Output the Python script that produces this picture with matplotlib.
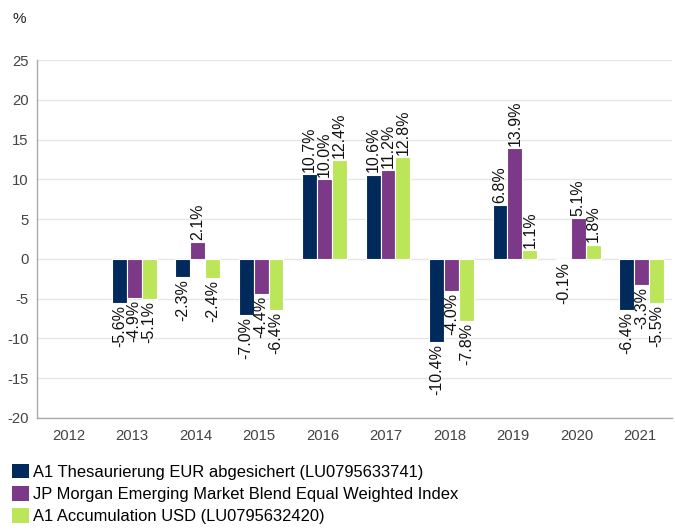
import numpy as np
import matplotlib
matplotlib.use("Agg")
import matplotlib.pyplot as plt
from matplotlib.patches import Patch

plt.rcParams['font.family'] = ['Liberation Sans', 'DejaVu Sans']
plt.rcParams['axes.unicode_minus'] = False

# data
years = ['2012', '2013', '2014', '2015', '2016', '2017', '2018', '2019', '2020', '2021']
a1_eur = [np.nan, -5.6, -2.3, -7.0, 10.7, 10.6, -10.4, 6.8, -0.1, -6.4]
jpm_index = [np.nan, -4.9, 2.1, -4.4, 10.0, 11.2, -4.0, 13.9, 5.1, -3.3]
a1_usd = [np.nan, -5.1, -2.4, -6.4, 12.4, 12.8, -7.8, 1.1, 1.8, -5.5]
series_names = ['A1 Thesaurierung EUR abgesichert (LU0795633741)',
                'JP Morgan Emerging Market Blend Equal Weighted Index',
                'A1 Accumulation USD (LU0795632420)']
colors = ['#002a5c', '#7b3987', '#bce65a']

fig = plt.figure(figsize=(6.75, 5.31), dpi=100)
ax = fig.add_axes([0.055, 0.213, 0.94, 0.674])

x = np.arange(len(years))
w = 0.235
for i, vals in enumerate([a1_eur, jpm_index, a1_usd]):
    pos = x + (i - 1) * w + 0.03
    ax.bar(pos, vals, width=w, color=colors[i], edgecolor='white', linewidth=0.8, zorder=3)
    for p, v in zip(pos, vals):
        if np.isnan(v):
            continue
        ax.annotate(f'{v:.1f}%', (p, v), xytext=(0, 1.5 if v >= 0 else -1.5),
                    textcoords='offset points', rotation=90,
                    ha='center', va='bottom' if v >= 0 else 'top',
                    fontsize=11.5, color='#111111', zorder=4)

ax.set_ylim(-20, 25)
ax.set_yticks(range(-20, 26, 5))
ax.set_xlim(-0.5, len(years) - 0.5)
ax.set_xticks(x)
ax.set_xticklabels(years)
ax.tick_params(length=0, labelsize=10.7, colors='#444444', pad=8)
ax.tick_params(axis='y', pad=6)
ax.grid(axis='y', color='#e6e6e6', linewidth=1, zorder=0)
for s in ['top', 'right']:
    ax.spines[s].set_visible(False)
for s in ['left', 'bottom']:
    ax.spines[s].set_color('#aaaaaa')
    ax.spines[s].set_linewidth(1)

fig.text(0.018, 0.965, '%', fontsize=11, color='#222222', va='center')

handles = [Patch(facecolor=c, edgecolor='none') for c in colors]
fig.legend(handles, series_names, loc='lower left', bbox_to_anchor=(0.008, 0.0),
           frameon=False, fontsize=11.9, handlelength=1.0, handleheight=1.0,
           handletextpad=0.3, labelspacing=0.38, borderaxespad=0.2, borderpad=0.2)

fig.savefig('out.png', dpi=100)
